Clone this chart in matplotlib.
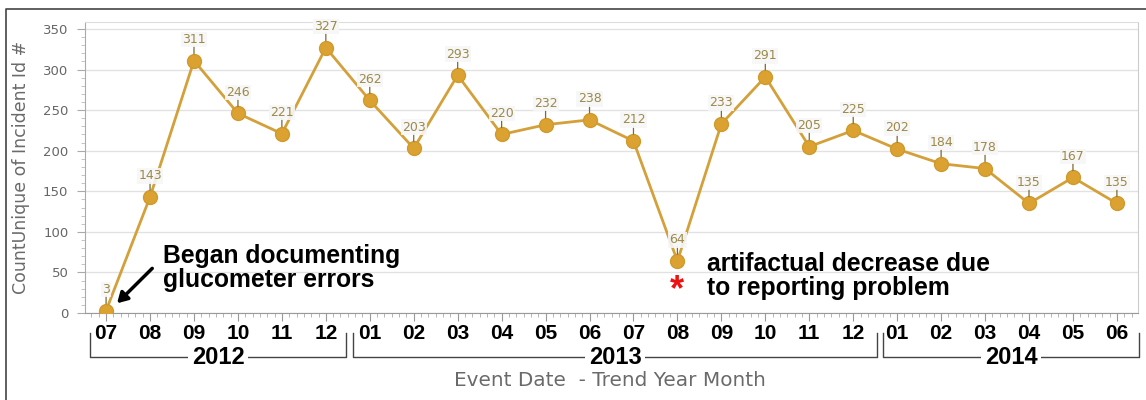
import matplotlib
matplotlib.use("Agg")
import matplotlib.pyplot as plt
from matplotlib.ticker import MultipleLocator, FixedLocator
from matplotlib.lines import Line2D

# Monthly counts of glucometer error incidents, Jul 2012 - Jun 2014
months = ["07", "08", "09", "10", "11", "12",
          "01", "02", "03", "04", "05", "06", "07", "08", "09", "10", "11", "12",
          "01", "02", "03", "04", "05", "06"]
counts = [3, 143, 311, 246, 221, 327,
          262, 203, 293, 220, 232, 238, 212, 64, 233, 291, 205, 225,
          202, 184, 178, 135, 167, 135]
years = ["2012", "2013", "2014"]
year_spans = [(-0.37, 5.47), (5.62, 17.55), (17.68, 23.5)]

line_color = "#d4a03a"
marker_color = "#dba232"
label_color = "#9c8a4a"

fig = plt.figure(figsize=(11.46, 4.0), dpi=100)
ax = fig.add_axes([85 / 1146, 1 - 313 / 400, (1138 - 85) / 1146, (313 - 22) / 400])

x = list(range(len(counts)))
ax.plot(x, counts, color=line_color, lw=2.0, marker="o", markersize=10,
        markerfacecolor=marker_color, markeredgecolor="#d09a2c", zorder=3)

for xi, v in zip(x, counts):
    ax.annotate("", xy=(xi, v), xytext=(0, 10.5), textcoords="offset points",
                arrowprops=dict(arrowstyle="-", color="#7a6a35", lw=0.9,
                                shrinkA=0, shrinkB=5), zorder=4)
    ax.annotate(str(v), xy=(xi, v), xytext=(0, 10.5), textcoords="offset points",
                ha="center", va="bottom", fontsize=9, color=label_color,
                bbox=dict(boxstyle="square,pad=0.1", fc="#f7f7f7", ec="none", alpha=0.9),
                zorder=5)

ax.set_xlim(-0.48, 23.48)
ax.set_ylim(0, 358.6)

ax.yaxis.set_major_locator(MultipleLocator(50))
ax.yaxis.set_minor_locator(MultipleLocator(10))
ax.grid(axis="y", which="major", color="#e2e2e2", lw=1.0)
ax.set_axisbelow(True)
ax.tick_params(axis="y", which="major", length=6, color="#aaaaaa",
               labelsize=9.5, labelcolor="#666666", pad=6)
ax.tick_params(axis="y", which="minor", length=3, color="#bbbbbb")

ax.xaxis.set_major_locator(FixedLocator(x))
ax.xaxis.set_minor_locator(MultipleLocator(1 / 6))
ax.set_xticklabels(months, fontsize=15, fontweight="bold", family="Liberation Sans")
ax.tick_params(axis="x", which="major", length=6, color="#999999", pad=2)
ax.tick_params(axis="x", which="minor", length=3, color="#aaaaaa")

for side, col in [("left", "#aaaaaa"), ("bottom", "#999999"),
                  ("top", "#dddddd"), ("right", "#cccccc")]:
    ax.spines[side].set_color(col)

ax.set_ylabel("CountUnique of Incident Id #", fontsize=12.5, color="#6a6a6a", labelpad=9)

# Year brackets under the month labels
tr = ax.get_xaxis_transform()
y_line = -0.152
y_top = -0.068
for yr, (a, b) in zip(years, year_spans):
    ax.add_line(Line2D([a, a, b, b], [y_top, y_line, y_line, y_top], transform=tr,
                       color="#444444", lw=1.0, clip_on=False))
    ax.text((a + b) / 2, y_line, yr, transform=tr, ha="center", va="center",
            fontsize=17, fontweight="bold", family="Liberation Sans",
            bbox=dict(boxstyle="square,pad=0.15", fc="white", ec="none"))

fig.text(610 / 1146, 1 - 380 / 400, "Event Date  - Trend Year Month",
         ha="center", va="center", fontsize=14.4, color="#6a6a6a")

# Annotations
ax.annotate("", xy=(0.25, 12), xytext=(1.05, 55),
            arrowprops=dict(arrowstyle="-|>,head_length=0.6,head_width=0.35",
                            color="black", lw=2.5, shrinkA=0, shrinkB=0))
ax.text(1.3, 55, "Began documenting\nglucometer errors", fontsize=17.8,
        fontweight="bold", family="Liberation Sans", va="center", ha="left",
        linespacing=1.0)
ax.text(13.68, 45, "artifactual decrease due\nto reporting problem", fontsize=17.8,
        fontweight="bold", family="Liberation Sans", va="center", ha="left",
        linespacing=1.0)
ax.text(12.98, 28, "*", fontsize=26, fontweight="bold", color="#ee1111",
        family="Liberation Sans", ha="center", va="center")

# Outer frame lines
fig.add_artist(Line2D([6 / 1146, 6 / 1146, 1.0], [0, 1 - 9 / 400, 1 - 9 / 400],
                      transform=fig.transFigure, color="#444444", lw=1.2))

fig.savefig("out.png", dpi=100)
